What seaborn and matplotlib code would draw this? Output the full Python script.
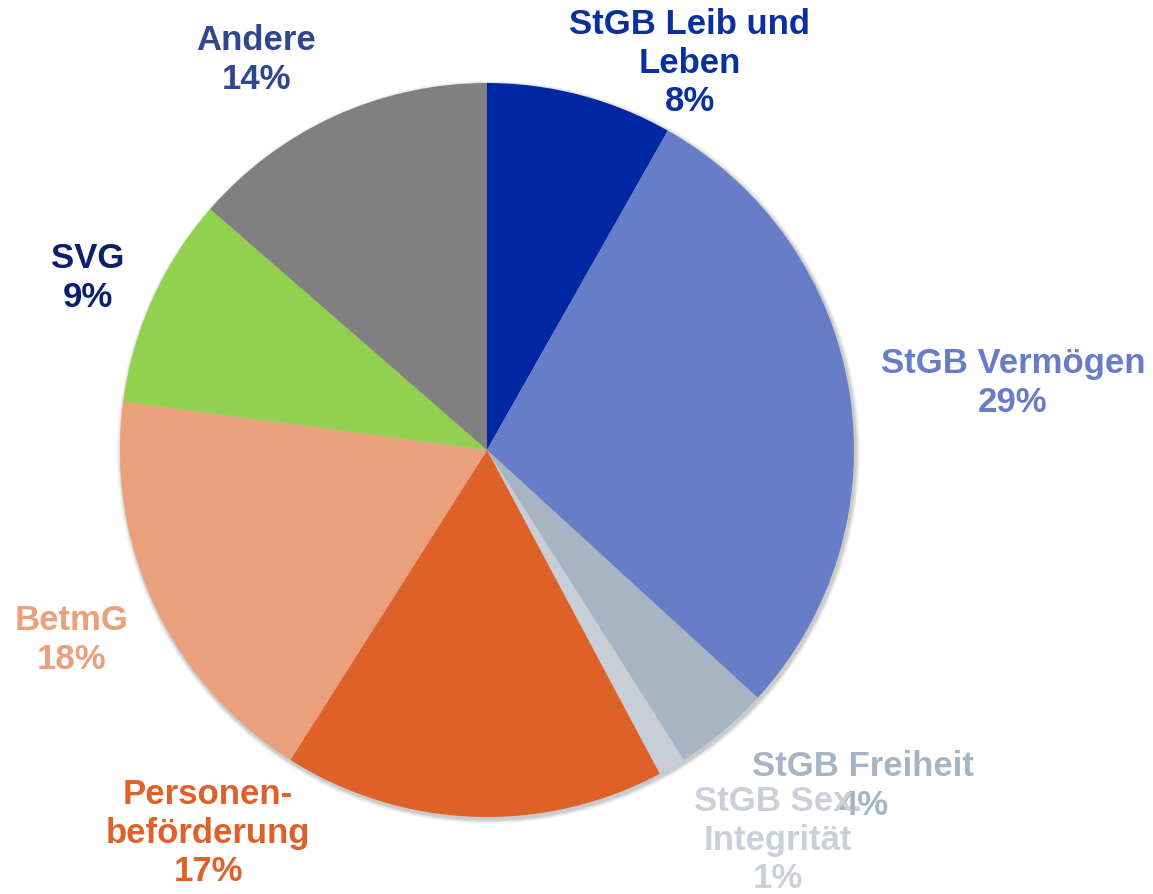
import matplotlib
matplotlib.use("Agg")
import matplotlib.pyplot as plt
import seaborn as sns
from matplotlib.patches import Circle

sns.set_theme(style="white")
plt.rcParams['font.family'] = ['Liberation Sans', 'DejaVu Sans']

# data (clockwise from 12 o'clock)
categories = ["StGB Leib und\nLeben", "StGB Vermögen", "StGB Freiheit", "StGB Sex.\nIntegrität",
              "Personen-\nbeförderung", "BetmG", "SVG", "Andere"]
shares = [8.2, 28.6, 4.2, 1.2, 16.8, 18.1, 9.3, 13.6]

wedge_colors = ["#0027A3", "#677DC8", "#A6B4C4", "#C9CED6", "#DE6129", "#EAA07C", "#92D050", "#808080"]
text_colors = ["#0A2F9E", "#677DC8", "#A6B4C4", "#CBD0D8", "#DE6129", "#EAA07C", "#0D1F6B", "#2F4690"]
# label centres in pie-radius units
label_pos = [(0.553, 1.054), (1.433, 0.183), (1.025, -0.916), (0.793, -1.063),
             (-0.760, -1.044), (-1.131, -0.518), (-1.087, 0.469), (-0.629, 1.063)]

fig = plt.figure(figsize=(11.53, 8.94), dpi=100)
ax = fig.add_axes([0, 0, 1, 1])

# soft shadow under the pie
for r, a in [(1.012, 0.05), (1.008, 0.07), (1.004, 0.09)]:
    ax.add_patch(Circle((0.004, -0.006), r, color="black", alpha=a, lw=0, zorder=0))

ax.pie(shares, colors=wedge_colors, startangle=90, counterclock=False,
       wedgeprops=dict(linewidth=0), radius=1.0)

for cat, val, col, (x, y) in zip(categories, shares, text_colors, label_pos):
    ax.text(x, y, f"{cat}\n{val:.0f}%", ha="center", va="center", color=col,
            fontsize=25, fontweight="bold", linespacing=1.22, zorder=5)

ax.set_xlim(-487 / 367, (1153 - 487) / 367)
ax.set_ylim(-(894 - 450) / 367, 450 / 367)
ax.set_aspect("auto")
ax.axis("off")

fig.savefig("out.png", dpi=100, facecolor="white")
